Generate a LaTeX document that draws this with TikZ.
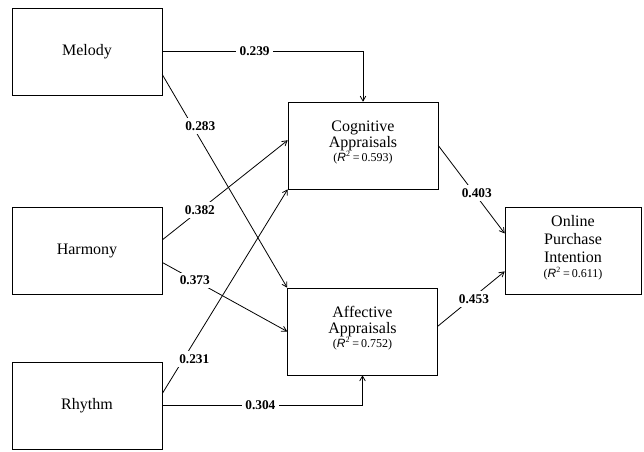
\documentclass[tikz,border=0pt]{standalone}
\usepackage{fontspec}
\setmainfont{Liberation Serif}
\setsansfont{Liberation Sans}
\usetikzlibrary{arrows}
\tikzstyle{construct}=[draw,rectangle,minimum width=112.5pt,minimum height=65.25pt,inner sep=0pt,align=center,font=\fontsize{12}{12}\selectfont]
\tikzstyle{link} = [draw,semithick,->,>=angle 60]
\tikzstyle{coef} = [font=\fontsize{10}{10}\selectfont\bfseries,fill=white,inner sep=2.5pt]
\newcommand{\rsq}[1]{{\fontsize{9}{10}\selectfont({\sffamily\itshape R}\textsuperscript{2}\,=\,#1)}}

\begin{document}
\begin{tikzpicture}[x=0.75pt,y=-0.75pt]
\useasboundingbox (0,0) rectangle (644,451);
% First the three music constructs
\foreach \pos/\name in {{(87,51.5)/Melody}, {(87,250.5)/Harmony}, {(87,405.5)/Rhythm}}
  \node[construct] (\name) at \pos {\name};

% Then the appraisals and the outcome
\node[construct] (Cognitive) at (363,145.5) {\\[-8pt]Cognitive\\Appraisals\\[-1.5pt]\rsq{0.593}};
\node[construct] (Affective) at (362.5,331.5) {\\[-8pt]Affective\\Appraisals\\[-1.5pt]\rsq{0.752}};
\node[construct, minimum width=102pt, font=\fontsize{12}{13.5}\selectfont] (Online) at (573,250.5)
  {\\[-9pt]Online\\Purchase\\Intention\\[-2.5pt]\rsq{0.611}};

% Straight paths with their coefficients
\foreach \source/\dest/\weight/\where/\dx in {Melody.-17/Affective.north west/0.283/0.24/6pt,
    Harmony.8/Cognitive.176/0.382/0.30/0pt, Harmony.-9/Affective.west/0.373/0.26/0pt,
    Rhythm.9/Cognitive.south west/0.231/0.17/8pt, Cognitive.east/Online.166/0.403/0.54/2pt,
    Affective.4/Online.197/0.453/0.50/2pt}
  \path[link] (\source) -- node[coef, pos=\where, xshift=\dx] {\weight} (\dest);

% Elbow paths
\path[link] (Melody.east) -| node[coef, pos=0.23] {0.239} (Cognitive.north);
\path[link] (Rhythm.east) -| node[coef, pos=0.245] {0.304} (Affective.south);

\end{tikzpicture}
\end{document}
